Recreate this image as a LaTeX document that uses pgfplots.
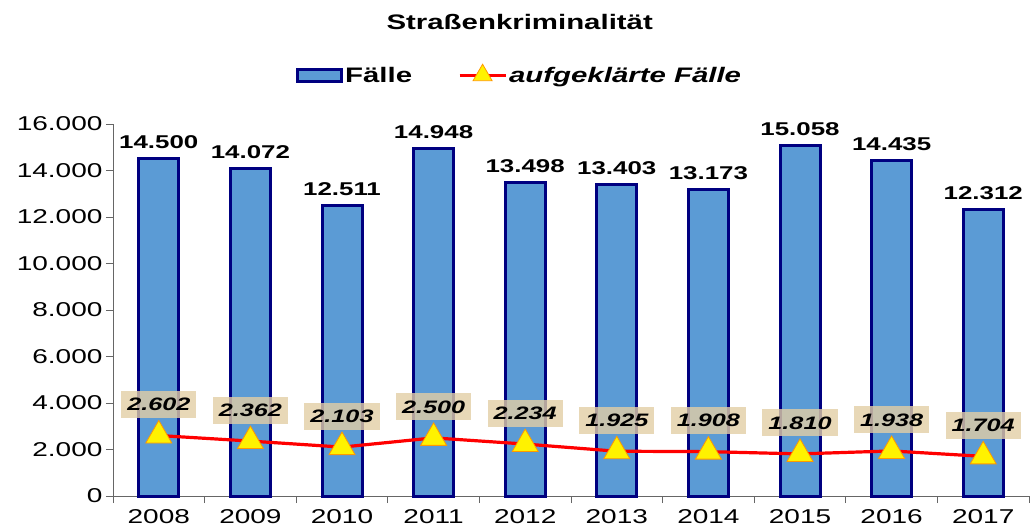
\documentclass[border=0pt]{standalone}
\usepackage{pgfplots}
\pgfplotsset{compat=1.18}
\usepackage{fontspec}
\setmainfont{Liberation Sans}[FakeStretch=1.4]
\definecolor{barblue}{RGB}{91,155,213}
\definecolor{barnavy}{RGB}{0,0,128}
\definecolor{boxtan}{RGB}{226,206,165}
\definecolor{triorange}{RGB}{255,153,0}
\begin{document}
\begin{tikzpicture}
\path[use as bounding box] (-113pt,-31pt) rectangle (922pt,496pt);
\begin{axis}[
  at={(0pt,0pt)}, anchor=south west,
  width=916pt, height=372pt, scale only axis,
  xmin=-0.5, xmax=9.5, ymin=0, ymax=16000,
  axis x line*=bottom, axis y line*=left,
  axis line style={draw=gray!80!black, line width=0.8pt},
  xtick={0,...,9},
  xticklabels={2008,2009,2010,2011,2012,2013,2014,2015,2016,2017},
  minor xtick={-0.5,0.5,...,9.5},
  major x tick style={draw=none},
  ytick={0,2000,...,16000},
  scaled y ticks=false,
  yticklabel style={/pgf/number format/fixed, /pgf/number format/precision=0},
  tick align=outside,
  major tick length=7pt, minor tick length=7pt,
  tick style={draw=gray!80!black, line width=0.8pt},
  /pgf/number format/1000 sep={.},
  /pgf/number format/assume math mode=true,
  ticklabel style={font=\fontsize{20}{22}\selectfont},
  xticklabel style={yshift=-3pt},
  title={\textbf{Straßenkriminalität}},
  title style={at={(0.444,1.257)}, anchor=center, font=\fontsize{21}{24}\selectfont},
  legend style={at={(0.444,1.132)}, anchor=center, draw=none, fill=none,
    font=\fontsize{21}{24}\selectfont\bfseries, /tikz/every even column/.append style={column sep=44pt}},
  legend columns=2,
  clip=false,
]
\addplot[ybar, bar width=40pt, fill=barblue, draw=barnavy, line width=3pt,
  legend image code/.code={\draw[fill=barblue, draw=barnavy, line width=2.8pt] (0pt,-6pt) rectangle (44pt,6pt);},
  nodes near coords,
  every node near coord/.append style={font=\fontsize{18.5}{20}\selectfont\bfseries, anchor=south, yshift=5pt, text=black},
  /pgf/number format/assume math mode=true]
  coordinates {(0,14500) (1,14072) (2,12511) (3,14948) (4,13498) (5,13403) (6,13173) (7,15058) (8,14435) (9,12312)};
\addlegendentry{Fälle}
\addplot[red, line width=3.2pt, mark=triangle*, mark size=15pt,
  mark options={fill=yellow, draw=triorange, line width=0.8pt},
  legend image code/.code={\draw[red, line width=3pt] (0pt,0pt) -- (46pt,0pt);
    \draw[fill=yellow, draw=triorange, line width=0.8pt] plot[mark=triangle*, mark size=11pt] coordinates {(23pt,0pt)};},
  nodes near coords,
  every node near coord/.append style={font=\fontsize{18}{20}\selectfont\bfseries\itshape, anchor=center, yshift=31pt, text=black,
    fill=boxtan, fill opacity=0.8, text opacity=1, inner xsep=6pt, inner ysep=5pt, minimum height=27pt},
  /pgf/number format/assume math mode=true]
  coordinates {(0,2602) (1,2362) (2,2103) (3,2500) (4,2234) (5,1925) (6,1908) (7,1810) (8,1938) (9,1704)};
\addlegendentry{\textit{aufgeklärte Fälle}}
\end{axis}
\end{tikzpicture}
\end{document}
